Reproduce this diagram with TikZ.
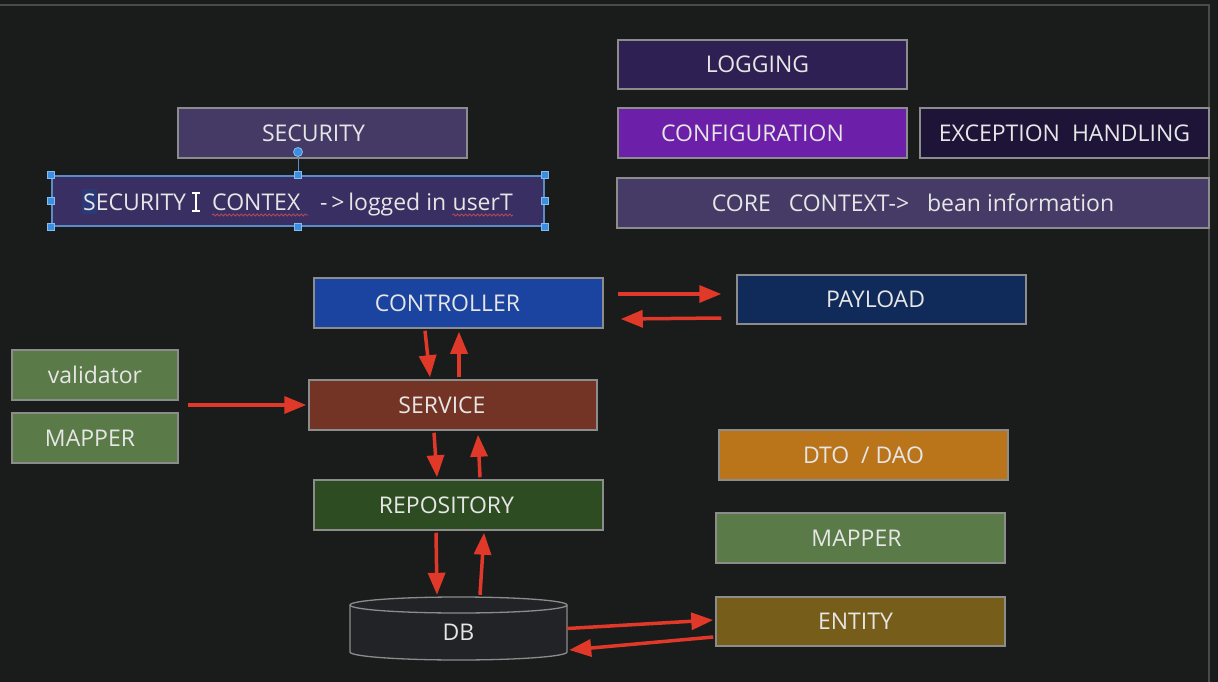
\documentclass[tikz,border=0pt]{standalone}
\usepackage{fontspec}
\setmainfont{Open Sans}
\usetikzlibrary{arrows.meta,calc,decorations.pathmorphing}

\definecolor{bg}{HTML}{1A1B1B}
\definecolor{frameline}{HTML}{4A4A4A}
\definecolor{boxline}{HTML}{8C8C8C}
\definecolor{txt}{HTML}{E6E6E6}
\definecolor{flow}{HTML}{E0392A}
\definecolor{cSec}{HTML}{453A66}
\definecolor{cSecCtx}{HTML}{3A2F62}
\definecolor{cLog}{HTML}{2E2052}
\definecolor{cConf}{HTML}{6C1FA8}
\definecolor{cExc}{HTML}{1E1438}
\definecolor{cCore}{HTML}{463B66}
\definecolor{cCtrl}{HTML}{1A44A0}
\definecolor{cPay}{HTML}{102A5A}
\definecolor{cGreen}{HTML}{5A7A48}
\definecolor{cServ}{HTML}{743425}
\definecolor{cRepo}{HTML}{2E4C21}
\definecolor{cDto}{HTML}{BA741A}
\definecolor{cEnt}{HTML}{765D1A}
\definecolor{cDb}{HTML}{222326}
\definecolor{handle}{HTML}{3B8FE0}
\definecolor{selline}{HTML}{5A8CC8}
\definecolor{hilite}{HTML}{2A3A78}
\definecolor{spell}{HTML}{B04858}

\begin{document}
\begin{tikzpicture}[x=1pt,y=-1pt,
  every node/.style={font=\fontsize{23}{26}\selectfont, text=txt},
  blk/.style={draw=boxline, line width=1.5pt, minimum height=50pt, inner sep=0pt, anchor=center},
  wide/.style={blk, minimum width=289pt},
  small/.style={blk, minimum width=166pt},
  flowarrow/.style={draw=flow, line width=3.5pt, -{Triangle[length=22pt,width=17pt]}},
  grip/.style={draw=handle!60!white, fill=handle, line width=0.8pt, minimum size=7pt, inner sep=0pt},
  squiggle/.style={draw=spell, line width=0.9pt, decorate, decoration={snake, amplitude=1pt, segment length=4pt}},
  inline/.style={anchor=base west, inner sep=0pt}
]
% canvas
\fill[bg] (0,0) rectangle (1218,682);
\path[use as bounding box] (0,0) rectangle (1218,682);
\draw[frameline, line width=1.5pt] (0,5) -- (1209,5) -- (1209,682);

% cross-cutting concerns
\node[wide, fill=cSec] (security) at (322.5,133) {};
\node[xshift=-9pt] at (security.center) {SECURITY};
\node[wide, fill=cLog, minimum height=49pt] (logging) at (762.5,64.5) {};
\node[xshift=-5pt] at (logging.center) {LOGGING};
\node[wide, fill=cConf] (config) at (762.5,133) {};
\node[xshift=-10pt] at (config.center) {CONFIGURATION};
\node[wide, fill=cExc] (exc) at (1064.5,133) {EXCEPTION\ \ HANDLING};
\node[blk, fill=cCore, minimum width=592pt] (core) at (913,203) {CORE\ \ \ CONTEXT->\ \ \ bean information};

% security context box (selected)
\node[draw=selline, line width=2pt, fill=cSecCtx, minimum width=492pt, minimum height=50pt, inner sep=0pt] (secctx) at (298,201) {};
\fill[hilite] (82,189) rectangle (97,214);
\node[inline] (t1) at (83,210) {SECURITY};
\node[inline] (t2) at (212,210) {CONTEX};
\node[inline] (t3) at (320,210) {-\,>\,logged in};
\node[inline] (t4) at ([xshift=6pt]t3.base east) {userT};
\draw[squiggle] ([yshift=-5pt]t2.base west) -- ([yshift=-5pt,xshift=8pt]t2.base east);
\draw[squiggle] ([yshift=-5pt]t4.base west) -- ([yshift=-5pt]t4.base east);
% text cursor
\draw[white, line width=1.3pt] (196,193) -- (196,211)
  (192,193) -- (200,193) (192,211) -- (200,211);
% selection handles
\coordinate (rot) at (298,152);
\draw[selline, line width=1pt] (rot) -- (secctx.north);
\fill[handle] (rot) circle (4.5pt);
\draw[handle!60!white, line width=0.8pt] (rot) circle (4.5pt);
\foreach \a in {north west,north,north east,west,east,south west,south,south east}
  \node[grip] at (secctx.\a) {};

% layered flow
\node[wide, fill=cCtrl] (ctrl) at (458.5,303) {};
\node[xshift=-11pt] at (ctrl.center) {CONTROLLER};
\node[wide, fill=cPay, minimum height=49pt] (payload) at (881.5,299.5) {};
\node[xshift=-6pt] at (payload.center) {PAYLOAD};
\node[small, fill=cGreen] (validator) at (95,375) {validator};
\node[small, fill=cGreen] (mapperL) at (95,438) {};
\node[xshift=-5pt] at (mapperL.center) {MAPPER};
\node[blk, fill=cServ, minimum width=288pt] (service) at (453,405) {};
\node[xshift=-11pt] at (service.center) {SERVICE};
\node[wide, fill=cRepo] (repo) at (458.5,505) {};
\node[xshift=-12pt] at (repo.center) {REPOSITORY};
\node[wide, fill=cDto] (dto) at (863.5,455) {DTO\ \ / DAO};
\node[wide, fill=cGreen] (mapperR) at (860.5,538) {};
\node[xshift=-4pt] at (mapperR.center) {MAPPER};
\node[wide, fill=cEnt, minimum height=49pt] (entity) at (860.5,621.5) {};
\node[xshift=-5pt] at (entity.center) {ENTITY};

% database cylinder
\node[minimum width=217pt, minimum height=63pt, inner sep=0pt] (db) at (458.5,628.5) {};
\filldraw[fill=cDb, draw=boxline, line width=1.3pt]
  (350,605) -- (350,652) arc[start angle=180, end angle=360, x radius=108.5pt, y radius=8pt]
  -- (567,605) arc[start angle=0, end angle=180, x radius=108.5pt, y radius=8pt] -- cycle;
\draw[boxline, line width=1.3pt] (350,605) arc[start angle=180, end angle=360, x radius=108.5pt, y radius=8pt];
\node at (db.center) [yshift=-4pt] {DB};

% arrows
\draw[flowarrow] ([xshift=14pt,yshift=9pt]ctrl.east) -- ([xshift=-15pt,yshift=5.5pt]payload.west);
\draw[flowarrow] ([xshift=-15pt,yshift=-18.5pt]payload.west) -- ([xshift=17pt,yshift=-16pt]ctrl.east);
\draw[flowarrow] ([xshift=-33.5pt,yshift=-2pt]ctrl.south) -- ([xshift=-23pt,yshift=2pt]service.north);
\draw[flowarrow] ([xshift=6pt,yshift=2pt]service.north) -- ([xshift=0.5pt,yshift=-3pt]ctrl.south);
\draw[flowarrow] ($(validator.east)!0.5!(mapperL.east)+(9,-1.5)$) -- ([xshift=-2pt]service.west);
\draw[flowarrow] ([xshift=-19pt,yshift=-2pt]service.south) -- ([xshift=-21.5pt,yshift=2pt]repo.north);
\draw[flowarrow] ([xshift=21.5pt,yshift=2pt]repo.north) -- ([xshift=25pt,yshift=-4pt]service.south);
\draw[flowarrow] ([xshift=-22.5pt,yshift=-2pt]repo.south) -- ([xshift=-21.5pt,yshift=2pt]db.north);
\draw[flowarrow] ([xshift=21.5pt,yshift=2pt]db.north) -- ([xshift=25.5pt,yshift=-2pt]repo.south);
\draw[flowarrow] (db.east) -- ([xshift=-2pt,yshift=1.5pt]entity.west);
\draw[flowarrow] ([xshift=-2pt,yshift=-15.5pt]entity.west) -- ([xshift=2pt,yshift=-21.5pt]db.east);
\end{tikzpicture}
\end{document}
